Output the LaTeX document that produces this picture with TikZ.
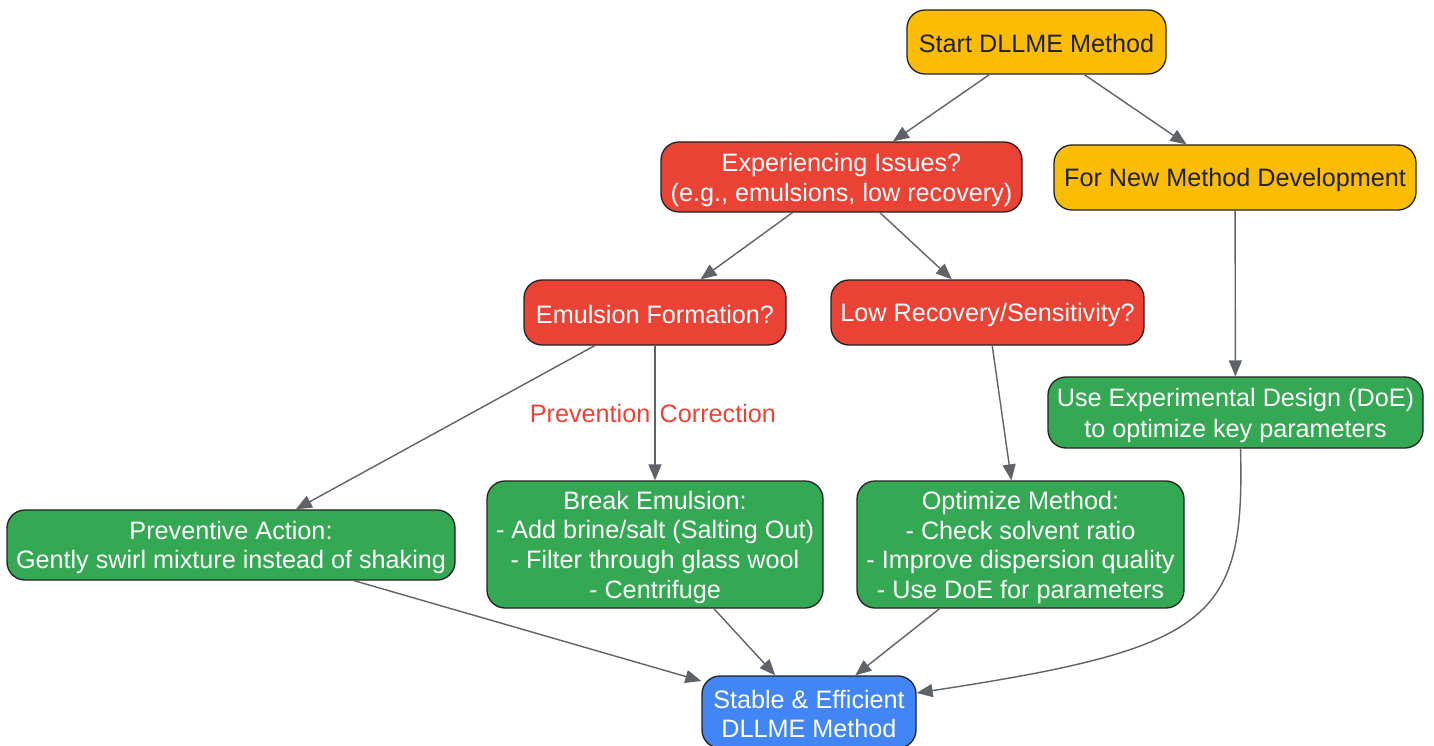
\documentclass[tikz,border=0pt]{standalone}
\usepackage{fontspec}
\setmainfont{Liberation Sans}
\usetikzlibrary{arrows.meta}
\definecolor{cyellow}{HTML}{FBBC04}
\definecolor{cred}{HTML}{EA4335}
\definecolor{cgreen}{HTML}{34A853}
\definecolor{cblue}{HTML}{4285F4}
\definecolor{cedge}{HTML}{5F6368}
\definecolor{cborder}{HTML}{222222}
\definecolor{cdark}{HTML}{202124}
\newcommand{\lstrut}{\rule[-3pt]{0pt}{27pt}}
\tikzset{
  box/.style={draw=cborder, line width=1.3pt, rounded corners=18pt, align=center,
    inner sep=2pt, font=\fontsize{25.2}{29}\selectfont},
  ybox/.style={box, fill=cyellow, text=cdark},
  rbox/.style={box, fill=cred, text=white},
  gbox/.style={box, fill=cgreen, text=white},
  bbox/.style={box, fill=cblue, text=white},
  conn/.style={draw=cedge, line width=1.4pt, -{Triangle[length=16pt,width=13pt]}},
  elabel/.style={text=cred, font=\fontsize{25.2}{29}\selectfont, inner sep=4pt}
}
\begin{document}
\begin{tikzpicture}[x=1pt,y=-1pt]
\useasboundingbox[fill=white] (0,0) rectangle (1434,746);
\node[ybox, minimum width=259pt, minimum height=64pt] (start) at (1036.5,42) {\lstrut Start DLLME Method};
\node[rbox, minimum width=361pt, minimum height=70pt] (issues) at (841.5,177) {\lstrut Experiencing Issues?\\\lstrut(e.g., emulsions, low recovery)};
\node[ybox, minimum width=362pt, minimum height=65pt] (newdev) at (1235,177.5) {\lstrut For New Method Development};
\node[rbox, minimum width=262pt, minimum height=65pt] (emul) at (655,312.5) {\lstrut Emulsion Formation?};
\node[rbox, minimum width=313pt, minimum height=65pt] (lowrec) at (987.5,312.5) {\lstrut Low Recovery/Sensitivity?};
\node[gbox, minimum width=375pt, minimum height=71pt] (doe) at (1235.5,412.5) {\lstrut Use Experimental Design (DoE)\\\lstrut to optimize key parameters};
\node[gbox, minimum width=448pt, minimum height=70pt] (prev) at (231,545) {\lstrut Preventive Action:\\\lstrut Gently swirl mixture instead of shaking};
\node[gbox, minimum width=336pt, minimum height=127pt] (brk) at (655,544.5) {\lstrut Break Emulsion:\\\lstrut - Add brine/salt (Salting Out)\\\lstrut - Filter through glass wool\\\lstrut - Centrifuge};
\node[gbox, minimum width=327pt, minimum height=127pt] (opt) at (1020.5,544.5) {\lstrut Optimize Method:\\\lstrut - Check solvent ratio\\\lstrut - Improve dispersion quality\\\lstrut - Use DoE for parameters};
\node[bbox, minimum width=214pt, minimum height=72pt] (stable) at (809,712) {\lstrut Stable \& Efficient\\\lstrut DLLME Method};

\draw[conn] (start) -- (issues);
\draw[conn] (start) -- (newdev);
\draw[conn] (issues) -- (emul);
\draw[conn] (issues) -- (lowrec);
\draw[conn] (emul) -- (prev);
\draw[conn] (emul) -- node[elabel, left, pos=0.5] {Prevention} node[elabel, right, pos=0.5] {Correction} (brk);
\draw[conn] (lowrec) -- (opt);
\draw[conn] (newdev) -- (doe);
\draw[conn] (prev) -- (stable);
\draw[conn] (brk) -- (stable);
\draw[conn] (opt) -- (stable);
\draw[conn] ([xshift=5pt]doe.south) .. controls (1245,620) and (1212,648) .. ([yshift=19pt]stable.east);
\end{tikzpicture}
\end{document}
